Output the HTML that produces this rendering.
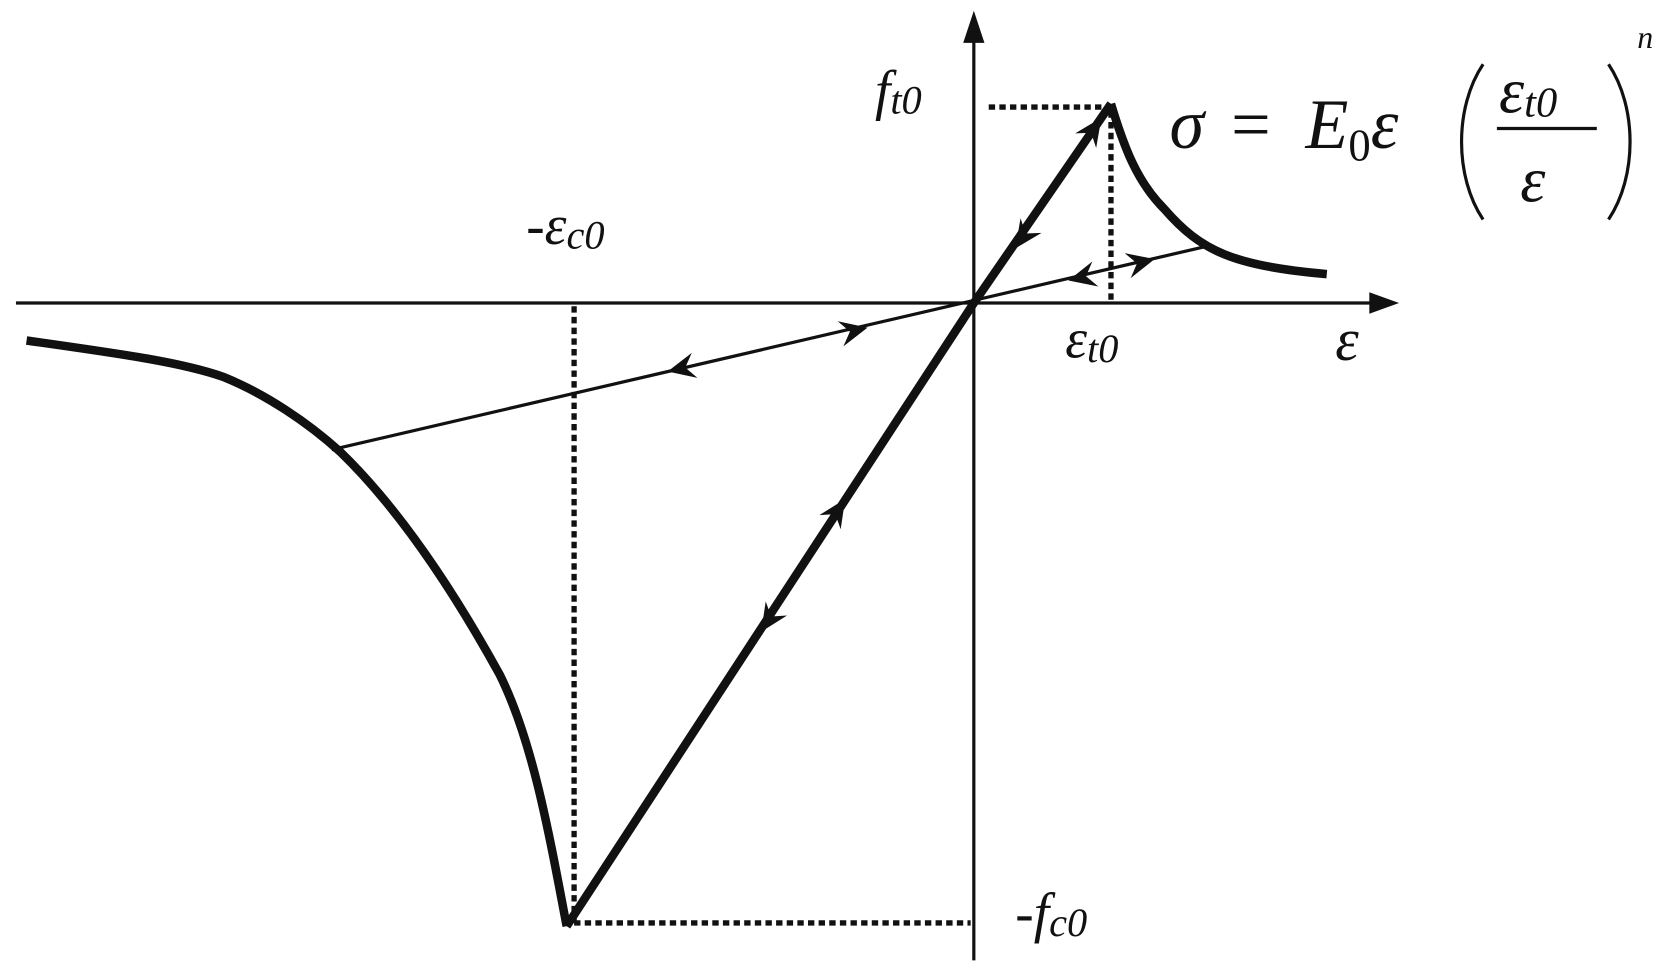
<!DOCTYPE html>
<html><head><meta charset="utf-8"><style>html,body{margin:0;padding:0;background:#fff}svg{display:block}
.t{font-family:"Liberation Serif",serif;font-style:italic;fill:#111}
</style></head>
<body>
<svg width="1667" height="969" viewBox="0 0 1568 905" preserveAspectRatio="none" xmlns="http://www.w3.org/2000/svg">
<defs>
<path id="ah" d="M0,0 L-26,-12 L-17,0 L-26,12 Z" fill="#111"/>
</defs>
<g stroke="#111" fill="none">
<line x1="15" y1="283" x2="1300" y2="283" stroke-width="3"/>
<line x1="916" y1="22" x2="916" y2="897" stroke-width="3"/>
<g stroke-width="5" stroke-dasharray="6,4">
<line x1="540" y1="286" x2="540" y2="862"/>
<line x1="540" y1="862" x2="913" y2="862"/>
<line x1="930" y1="100" x2="1043" y2="100"/>
<line x1="1045" y1="104" x2="1045" y2="281"/>
</g>
<line x1="312" y1="420" x2="1135" y2="230" stroke-width="3"/>
<polyline points="533,865 916,283 1045,97" stroke-width="8" stroke-linejoin="miter"/>
<path d="M1045,97 C1058,140 1070,170 1095,195 C1130,235 1160,248 1248,256" stroke-width="8"/>
<path d="M25,318 C110,330 170,338 210,352 C250,368 290,395 320,422 C370,470 420,540 470,630 C500,690 515,770 533,865" stroke-width="8"/>
</g>
<path d="M916,10 L906,40 L926,40 Z" fill="#111"/>
<path d="M1316,283 L1288,273 L1288,293 Z" fill="#111"/>
<use href="#ah" transform="translate(1036,110) rotate(-55.3)"/>
<use href="#ah" transform="translate(955,232) rotate(124.7)"/>
<use href="#ah" transform="translate(795,466) rotate(-56.7)"/>
<use href="#ah" transform="translate(716,590) rotate(123.3)"/>
<use href="#ah" transform="translate(816,306) rotate(-12.8)"/>
<use href="#ah" transform="translate(628,347) rotate(167.2)"/>
<use href="#ah" transform="translate(1086,242) rotate(-13.6)"/>
<use href="#ah" transform="translate(1005,262) rotate(166.4)"/>
<text class="t" x="823" y="102" font-size="52">f<tspan font-size="38" dy="4">t0</tspan></text>
<text class="t" x="495" y="228" font-size="52">-ε<tspan font-size="38" dy="4">c0</tspan></text>
<text class="t" x="1002" y="334" font-size="52">ε<tspan font-size="38" dy="4">t0</tspan></text>
<text class="t" x="1256" y="336" font-size="56">ε</text>
<text class="t" x="955" y="870" font-size="52">-f<tspan font-size="38" dy="4">c0</tspan></text>
<text class="t" x="1100" y="138" font-size="66">σ</text>
<text class="t" x="1158" y="138" font-size="66" style="font-style:normal">=</text>
<text class="t" x="1228" y="138" font-size="66">E<tspan font-size="42" dy="12" style="font-style:normal">0</tspan><tspan dy="-12">ε</tspan></text>
<text class="t" x="1410" y="105" font-size="60">ε<tspan font-size="40" dy="4">t0</tspan></text>
<text class="t" x="1430" y="188" font-size="60">ε</text>
<text class="t" x="1540" y="45" font-size="30">n</text>
<line x1="1408" y1="120" x2="1502" y2="120" stroke="#111" stroke-width="3"/>
<path d="M1395,60 C1368,100 1368,165 1395,205" stroke="#111" stroke-width="3" fill="none"/>
<path d="M1513,60 C1540,100 1540,165 1513,205" stroke="#111" stroke-width="3" fill="none"/>
</svg>
</body></html>
